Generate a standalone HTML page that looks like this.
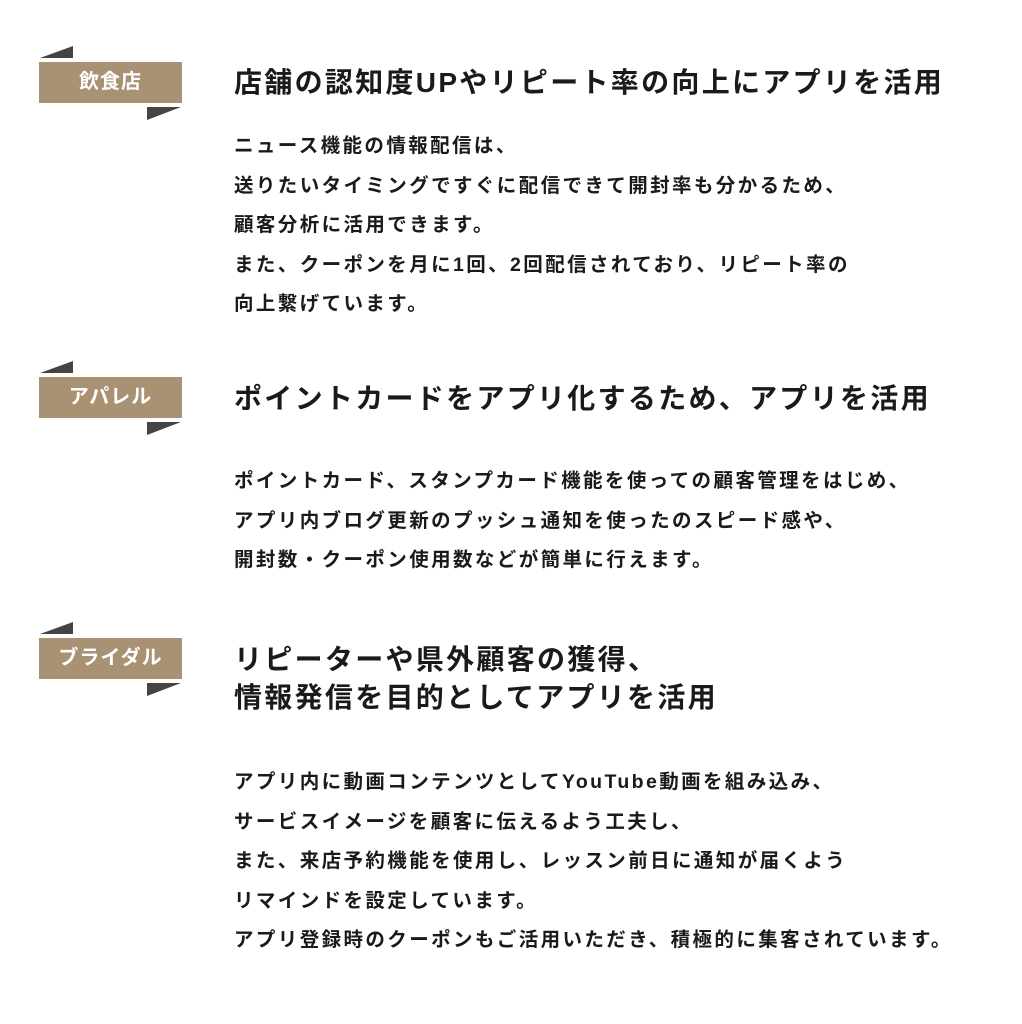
<!DOCTYPE html>
<html><head><meta charset="utf-8"><style>
body{margin:0;width:1022px;height:1024px;background:#fff;position:relative;font-family:"Liberation Sans","Noto Sans CJK JP",sans-serif;color:#1a1a1a;font-weight:bold;overflow:hidden}
.box{position:absolute;left:39px;width:143px;height:41px;background:#a99274;color:#fff;font-size:20px;text-align:center;line-height:41px;letter-spacing:1px}
.t{position:absolute;left:0;top:0}
.h{position:absolute;left:234px;font-size:28px;line-height:38px;white-space:nowrap;letter-spacing:2.3px}
.b{position:absolute;left:234px;font-size:19.5px;line-height:39.5px;white-space:nowrap;letter-spacing:2.4px}
</style></head><body>
<svg class="t" width="1022" height="1024">
<g fill="#444">
<polygon points="40,58 73,46 73,58"/><polygon points="147,107 181,107 147,120"/>
<polygon points="40,373 73,361 73,373"/><polygon points="147,422 181,422 147,435"/>
<polygon points="40,634 73,622 73,634"/><polygon points="147,683 181,683 147,696"/>
</g></svg>
<div class="box" style="top:62px">飲食店</div>
<div class="box" style="top:377px">アパレル</div>
<div class="box" style="top:638px">ブライダル</div>
<div class="h" style="top:64px">店舗の認知度UPやリピート率の向上にアプリを活用</div>
<div class="b" style="top:127px">ニュース機能の情報配信は、<br>送りたいタイミングですぐに配信できて開封率も分かるため、<br>顧客分析に活用できます。<br>また、クーポンを月に1回、2回配信されており、リピート率の<br>向上繋げています。</div>
<div class="h" style="top:380px">ポイントカードをアプリ化するため、アプリを活用</div>
<div class="b" style="top:462px">ポイントカード、スタンプカード機能を使っての顧客管理をはじめ、<br>アプリ内ブログ更新のプッシュ通知を使ったのスピード感や、<br>開封数・クーポン使用数などが簡単に行えます。</div>
<div class="h" style="top:641px">リピーターや県外顧客の獲得、<br>情報発信を目的としてアプリを活用</div>
<div class="b" style="top:763px">アプリ内に動画コンテンツとしてYouTube動画を組み込み、<br>サービスイメージを顧客に伝えるよう工夫し、<br>また、来店予約機能を使用し、レッスン前日に通知が届くよう<br>リマインドを設定しています。<br>アプリ登録時のクーポンもご活用いただき、積極的に集客されています。</div>
</body></html>
